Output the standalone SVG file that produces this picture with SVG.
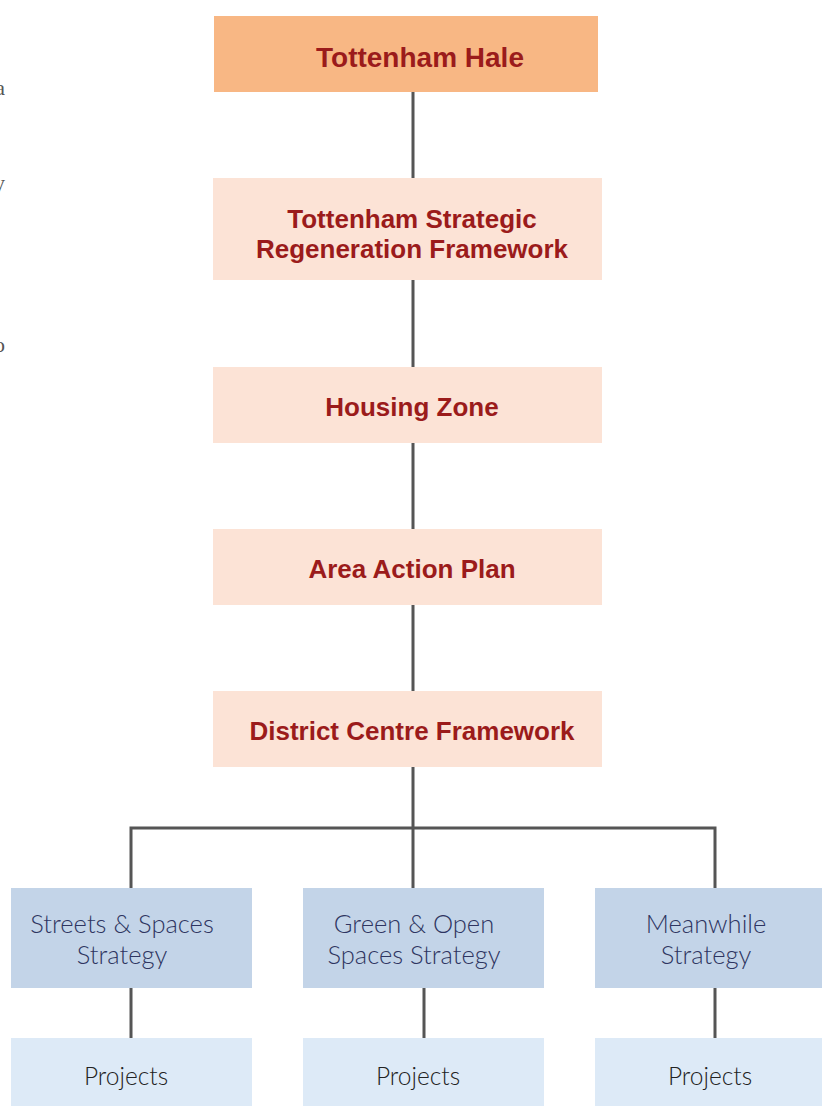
<svg xmlns="http://www.w3.org/2000/svg" width="822" height="1106" viewBox="0 0 822 1106">
<style>
.top{fill:#F8B784}
.mid{fill:#FCE3D6}
.str{fill:#C3D4E8}
.prj{fill:#DDEAF7}
.tb{font-family:"Liberation Sans",Arial,sans-serif;font-weight:bold;font-size:26px;fill:#9B1B1B;text-anchor:middle}
.tl{font-family:Lato,"Liberation Sans",sans-serif;font-weight:300;font-size:25.5px;fill:#2E3561;text-anchor:middle}
.tp{font-family:Lato,"Liberation Sans",sans-serif;font-weight:300;font-size:24.5px;fill:#222;text-anchor:middle}
.frag{font-family:"Liberation Serif",serif;font-size:22px;fill:#555;text-anchor:end}
.c{stroke:#555;stroke-width:3;fill:none}
</style>
<rect width="822" height="1106" fill="#fff"/>
<g id="fragments">
<text class="frag" x="5" y="95">a</text>
<text class="frag" x="5" y="190">y</text>
<text class="frag" x="5" y="352">o</text>
</g>
<g id="connectors">
<path class="c" d="M413 92V888M131 888V828H715V888M131 988V1038M424 988V1038M715 988V1038"/>
</g>
<g id="n1"><rect class="top" x="214" y="16" width="384" height="76"/><text class="tb" x="420" y="67" style="font-size:28px">Tottenham Hale</text></g>
<g id="n2"><rect class="mid" x="213" y="178" width="389" height="102"/><text class="tb" x="412" y="228">Tottenham Strategic</text><text class="tb" x="412" y="258">Regeneration Framework</text></g>
<g id="n3"><rect class="mid" x="213" y="367" width="389" height="76"/><text class="tb" x="412" y="416">Housing Zone</text></g>
<g id="n4"><rect class="mid" x="213" y="529" width="389" height="76"/><text class="tb" x="412" y="578">Area Action Plan</text></g>
<g id="n5"><rect class="mid" x="213" y="691" width="389" height="76"/><text class="tb" x="412" y="740">District Centre Framework</text></g>
<g id="s1"><rect class="str" x="11" y="888" width="241" height="100"/><text class="tl" x="122" y="933">Streets &amp; Spaces</text><text class="tl" x="122" y="964">Strategy</text></g>
<g id="s2"><rect class="str" x="303" y="888" width="241" height="100"/><text class="tl" x="414" y="933">Green &amp; Open</text><text class="tl" x="414" y="964">Spaces Strategy</text></g>
<g id="s3"><rect class="str" x="595" y="888" width="227" height="100"/><text class="tl" x="706" y="933">Meanwhile</text><text class="tl" x="706" y="964">Strategy</text></g>
<g id="p1"><rect class="prj" x="11" y="1038" width="241" height="68"/><text class="tp" x="126" y="1085">Projects</text></g>
<g id="p2"><rect class="prj" x="303" y="1038" width="241" height="68"/><text class="tp" x="418" y="1085">Projects</text></g>
<g id="p3"><rect class="prj" x="595" y="1038" width="227" height="68"/><text class="tp" x="710" y="1085">Projects</text></g>
</svg>
